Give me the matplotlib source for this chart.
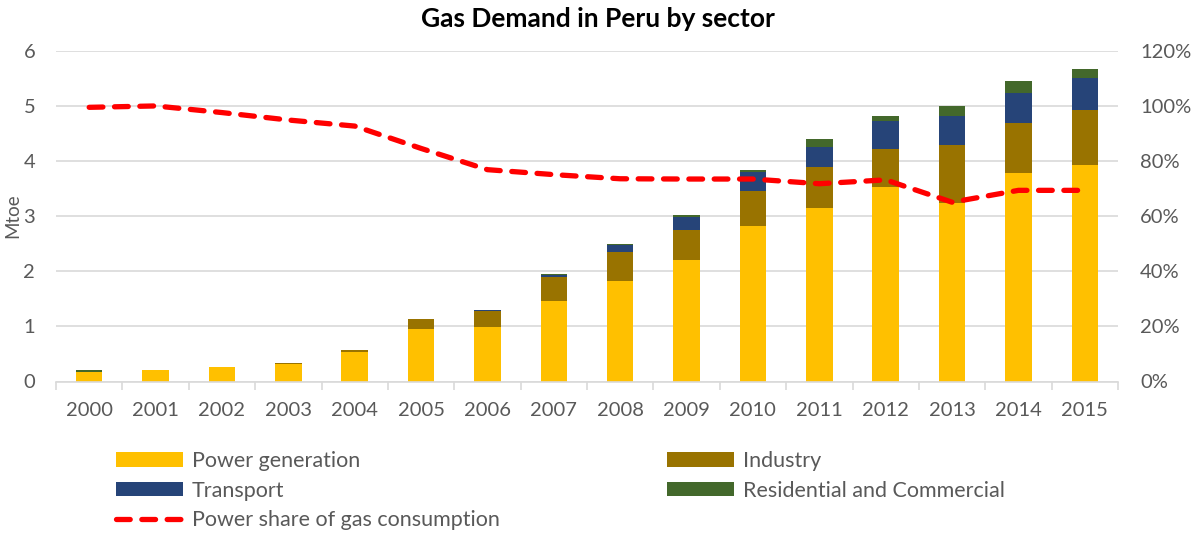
import matplotlib
matplotlib.use('Agg')
import matplotlib.pyplot as plt
import numpy as np
from matplotlib.ticker import PercentFormatter

plt.rcParams['font.family'] = ['Lato', 'DejaVu Sans']

years = ['2000', '2001', '2002', '2003', '2004', '2005', '2006', '2007',
         '2008', '2009', '2010', '2011', '2012', '2013', '2014', '2015']
# stacked values in Mtoe
power = [0.18, 0.20, 0.26, 0.31, 0.53, 0.96, 0.99, 1.46,
         1.83, 2.21, 2.81, 3.15, 3.53, 3.23, 3.78, 3.92]
industry = [0.00, 0.00, 0.00, 0.02, 0.05, 0.17, 0.29, 0.43,
            0.52, 0.54, 0.65, 0.74, 0.69, 1.05, 0.90, 1.00]
transport = [0.00, 0.00, 0.00, 0.00, 0.00, 0.00, 0.01, 0.04,
             0.12, 0.23, 0.33, 0.36, 0.50, 0.53, 0.55, 0.58]
residential = [0.02, 0.00, 0.00, 0.00, 0.00, 0.00, 0.01, 0.02,
               0.03, 0.04, 0.05, 0.15, 0.10, 0.18, 0.21, 0.16]
# power share of gas consumption (%)
power_share = [99.4, 99.9, 97.5, 94.8, 92.6, 84.5, 76.8, 75.0,
               73.5, 73.4, 73.4, 71.7, 73.1, 65.0, 69.3, 69.3]

c_power = '#FFC000'
c_ind = '#997300'
c_trans = '#264478'
c_res = '#43682B'
grid_c = '#D9D9D9'
txt_c = '#595959'
fs = 14.5

fig = plt.figure(figsize=(11.95, 5.33), dpi=100)
ax = fig.add_axes([56 / 1195, 1 - 381.5 / 533, (1118 - 56) / 1195, (381.5 - 50.5) / 533])

x = np.arange(len(years))
w = 0.4
p = np.array(power)
i = np.array(industry)
t = np.array(transport)
r = np.array(residential)

b1 = ax.bar(x, p, w, color=c_power, zorder=2, label='Power generation')
b2 = ax.bar(x, i, w, bottom=p, color=c_ind, zorder=2, label='Industry')
b3 = ax.bar(x, t, w, bottom=p + i, color=c_trans, zorder=2, label='Transport')
b4 = ax.bar(x, r, w, bottom=p + i + t, color=c_res, zorder=2, label='Residential and Commercial')

ax.set_xlim(-0.5, len(years) - 0.5)
ax.set_ylim(0, 6)
ax.set_yticks(range(0, 7))
ax.yaxis.grid(True, color=grid_c, linewidth=1.2, zorder=0)
ax.set_axisbelow(True)
ax.set_xticks(x)
ax.set_xticklabels(years)
ax.set_xticks(np.arange(-0.5, len(years), 1), minor=True)
ax.tick_params(axis='x', which='major', length=0, pad=15, labelsize=fs, labelcolor=txt_c)
ax.tick_params(axis='x', which='minor', length=6, color=grid_c, width=1.2)
ax.tick_params(axis='y', length=0, pad=15, labelsize=fs, labelcolor=txt_c)
for s in ['top', 'right', 'left']:
    ax.spines[s].set_visible(False)
ax.spines['bottom'].set_color(grid_c)
ax.spines['bottom'].set_linewidth(1.2)
ax.set_ylabel('Mtoe', fontsize=13.5, color=txt_c)
ax.yaxis.set_label_coords(-35 / 1062, (381.5 - 216) / 331)

ax2 = ax.twinx()
ax2.set_ylim(0, 120)
ax2.set_yticks(range(0, 121, 20))
ax2.yaxis.set_major_formatter(PercentFormatter(decimals=0))
ax2.tick_params(axis='y', length=0, pad=16, labelsize=fs, labelcolor=txt_c)
for s in ax2.spines.values():
    s.set_visible(False)
ln, = ax2.plot(x, power_share, color='#FF0000', linewidth=3.8,
               dashes=(2.6, 2.2), dash_capstyle='round', zorder=3,
               label='Power share of gas consumption')

fig.text(0.5, 1 - 19 / 533, 'Gas Demand in Peru by sector', fontsize=19,
         fontweight='bold', ha='center', va='center')

leg_kw = dict(frameon=False, fontsize=15.5, handlelength=3.1, handleheight=0.65,
              handletextpad=0.42, labelspacing=0.45, labelcolor=txt_c,
              borderpad=0, borderaxespad=0, loc='upper left')
h1 = [b1, b3, ln]
h2 = [b2, b4]
leg1 = fig.legend(handles=h1, labels=[h.get_label() for h in h1],
                  bbox_to_anchor=(116 / 1195, 1 - 451 / 533), **leg_kw)
leg2 = fig.legend(handles=h2, labels=[h.get_label() for h in h2],
                  bbox_to_anchor=(667 / 1195, 1 - 451 / 533), **leg_kw)

fig.savefig('out.png', dpi=100)
